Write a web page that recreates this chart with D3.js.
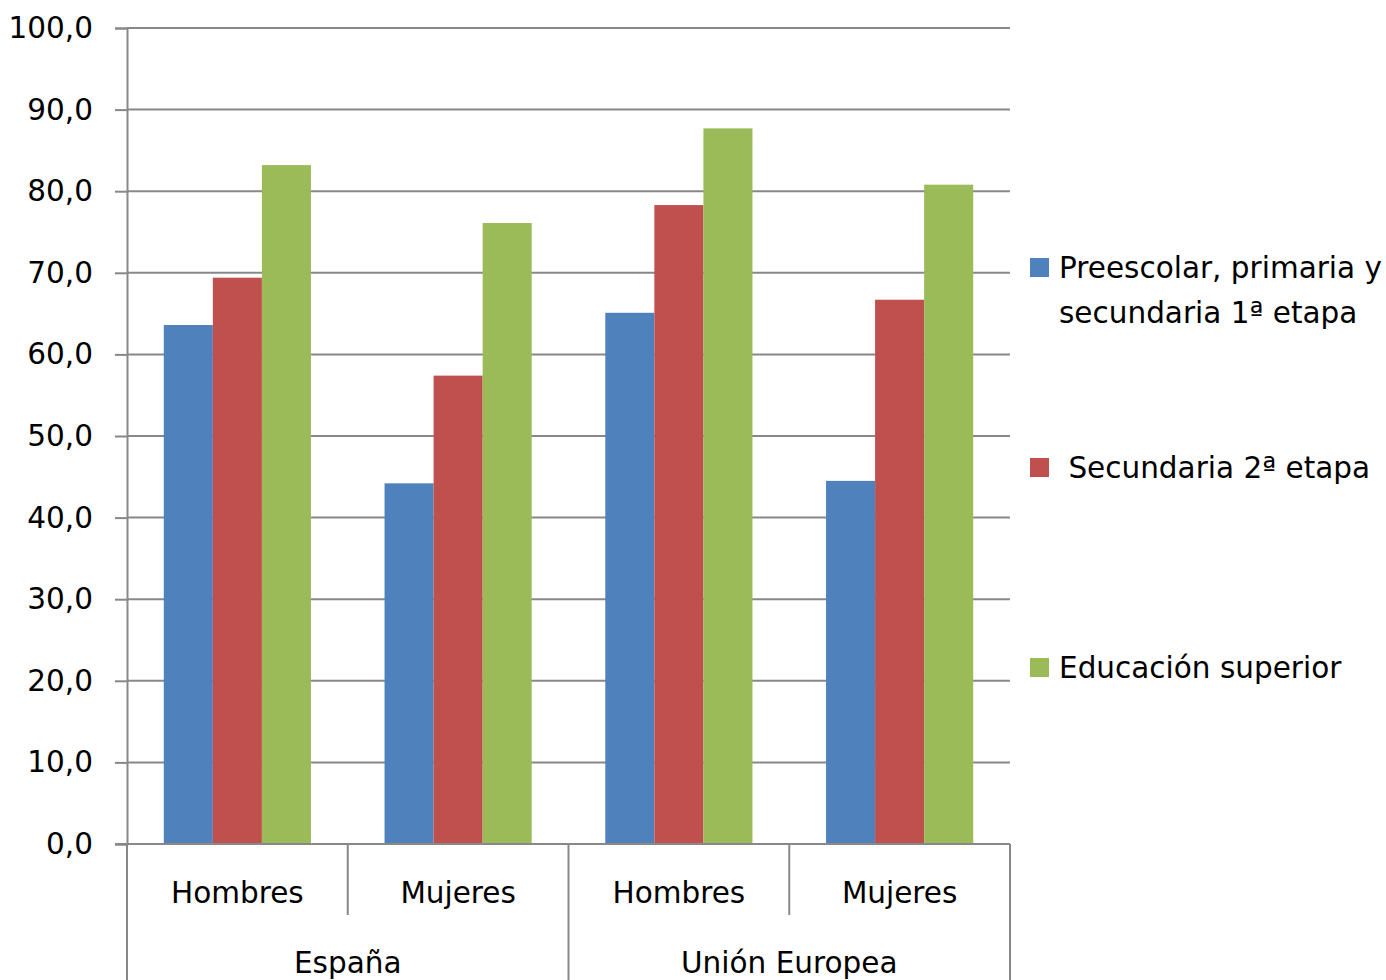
<!DOCTYPE html>
<html>
<head>
<meta charset="utf-8">
<script src="https://cdn.jsdelivr.net/npm/d3@7"></script>
<style>
  html, body { margin: 0; padding: 0; background: #fff; }
  svg { display: block; }
  text { font-family: "Comic Sans MS", "DejaVu Sans", sans-serif; fill: #000; }
</style>
</head>
<body>
<svg id="chart" width="1386" height="980"></svg>
<script>
// Categories: country groups, each split by sex
const groups = ["España", "Unión Europea"];
const sexes = ["Hombres", "Mujeres"];
// Series (education level) and their values, in order:
// España-Hombres, España-Mujeres, UE-Hombres, UE-Mujeres
const seriesNames = ["Preescolar, primaria y secundaria 1ª etapa", "Secundaria 2ª etapa", "Educación superior"];
const seriesColors = ["#4f81bd", "#c0504d", "#9bbb59"];
const preescolar = [63.6, 44.2, 65.1, 44.5];
const secundaria2 = [69.4, 57.4, 78.3, 66.7];
const superior = [83.2, 76.1, 87.7, 80.8];
const yTicks = [0, 10, 20, 30, 40, 50, 60, 70, 80, 90, 100];

const seriesValues = [preescolar, secundaria2, superior];
const cats = [];
groups.forEach(g => sexes.forEach(s => cats.push(g + "|" + s)));

const svg = d3.select("#chart");
const plotLeft = 127, plotRight = 1010, plotTop = 28, plotBottom = 844;
const fs = 29.5;

const x = d3.scaleBand().domain(cats).range([plotLeft, plotRight]).paddingInner(0).paddingOuter(0);
const y = d3.scaleLinear().domain([0, 100]).range([plotBottom, plotTop]);
const xs = d3.scaleBand().domain(d3.range(seriesNames.length))
  .range([0, x.bandwidth()]).paddingInner(0).paddingOuter(0.75);

const grid = "#888888";

// Horizontal gridlines
svg.append("g").selectAll("line").data(yTicks.filter(d => d > 0)).join("line")
  .attr("x1", plotLeft).attr("x2", plotRight)
  .attr("y1", d => y(d)).attr("y2", d => y(d))
  .attr("stroke", grid).attr("stroke-width", 2);

// Y axis
const yAxis = d3.axisLeft(y).tickValues(yTicks).tickSize(12).tickPadding(22)
  .tickFormat(d => d3.format(".1f")(d).replace(".", ","));
const ya = svg.append("g").attr("transform", `translate(${plotLeft},0)`).call(yAxis);
ya.select(".domain").attr("stroke", grid).attr("stroke-width", 2);
ya.selectAll(".tick line").attr("stroke", grid).attr("stroke-width", 2);
ya.selectAll(".tick text").attr("font-size", fs).attr("fill", "#000")
  .style("font-family", '"Comic Sans MS", "DejaVu Sans", sans-serif');

// Bars
const barData = [];
cats.forEach((c, i) => seriesValues.forEach((vals, s) => barData.push({ c, s, v: vals[i] })));
svg.append("g").selectAll("rect").data(barData).join("rect")
  .attr("x", d => x(d.c) + xs(d.s))
  .attr("width", xs.bandwidth())
  .attr("y", d => y(d.v))
  .attr("height", d => y(0) - y(d.v))
  .attr("fill", d => seriesColors[d.s]);

// X axis baseline
svg.append("line").attr("x1", plotLeft - 12).attr("x2", plotRight)
  .attr("y1", plotBottom).attr("y2", plotBottom)
  .attr("stroke", grid).attr("stroke-width", 2);

// Category separators: short between sexes, long between groups
const seps = d3.range(cats.length + 1).map(i => ({
  xv: i < cats.length ? x(cats[i]) : plotRight,
  long: i % sexes.length === 0
}));
svg.append("g").selectAll("line").data(seps).join("line")
  .attr("x1", d => d.xv).attr("x2", d => d.xv)
  .attr("y1", plotBottom).attr("y2", d => d.long ? 980 : 915)
  .attr("stroke", grid).attr("stroke-width", 2);

// Sex labels
svg.append("g").selectAll("text").data(cats).join("text")
  .attr("x", d => x(d) + x.bandwidth() / 2)
  .attr("y", 903)
  .attr("text-anchor", "middle").attr("font-size", fs)
  .text(d => d.split("|")[1]);

// Group labels
svg.append("g").selectAll("text").data(groups).join("text")
  .attr("x", (d, i) => x(cats[i * sexes.length]) + x.bandwidth())
  .attr("y", 973)
  .attr("text-anchor", "middle").attr("font-size", fs)
  .text(d => d);

// Legend
const legendY = [268, 468, 668];
const legendLines = [["Preescolar, primaria y", "secundaria 1ª etapa"], [" Secundaria 2ª etapa"], ["Educación superior"]];
const lg = svg.append("g");
seriesNames.forEach((name, i) => {
  lg.append("rect").attr("x", 1030).attr("y", legendY[i] - 10).attr("width", 19).attr("height", 19)
    .attr("fill", seriesColors[i]);
  const t = lg.append("text").attr("x", 1059).attr("y", legendY[i] + 10).attr("font-size", fs)
    .style("white-space", "pre");
  legendLines[i].forEach((ln, k) => {
    t.append("tspan").attr("x", 1059).attr("dy", k === 0 ? 0 : 45).text(ln);
  });
});
</script>
</body>
</html>
